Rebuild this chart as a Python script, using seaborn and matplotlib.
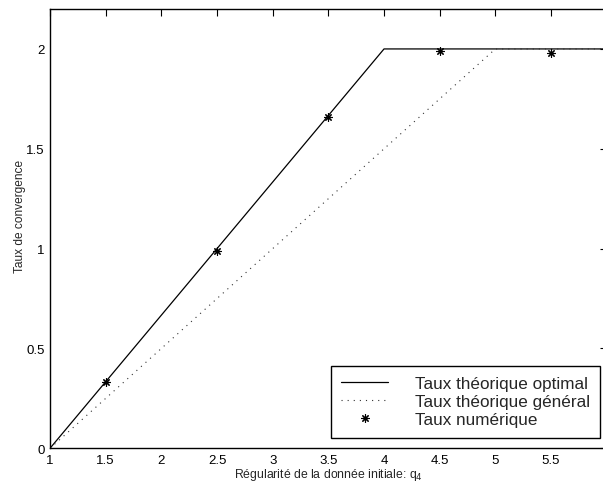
import matplotlib
matplotlib.use("Agg")
import matplotlib.pyplot as plt
import seaborn as sns
import pandas as pd

# Data
x_optimal = [1, 4, 6]
y_optimal = [0, 2, 2]
x_general = [1, 5, 6]
y_general = [0, 2, 2]
x_num = [1.5, 2.5, 3.5, 4.5, 5.5]
y_num = [0.33, 0.99, 1.66, 1.99, 1.98]
x_ticks = [1, 1.5, 2, 2.5, 3, 3.5, 4, 4.5, 5, 5.5]
y_ticks = [0, 0.5, 1, 1.5, 2]

sns.set_style("white")
plt.rcParams['font.family'] = ['Liberation Sans', 'DejaVu Sans']

fig = plt.figure(figsize=(6.03, 4.89), dpi=100)
W, H = 603, 489
ax = fig.add_axes([50 / W, (H - 449.3) / H, 556.7 / W, 439.3 / H])

df_opt = pd.DataFrame({"x": x_optimal, "y": y_optimal})
df_gen = pd.DataFrame({"x": x_general, "y": y_general})
df_num = pd.DataFrame({"x": x_num, "y": y_num})

sns.lineplot(data=df_opt, x="x", y="y", ax=ax, color="black", linewidth=0.9,
             label="Taux théorique optimal")
sns.lineplot(data=df_gen, x="x", y="y", ax=ax, color="#333333", linewidth=0.8,
             linestyle=(0, (1, 4.5)), label="Taux théorique général")
ax.plot(x_num, y_num, linestyle="none", marker=(8, 2, 0), markersize=6,
        markeredgewidth=0.8, color="black", label="Taux numérique")

ax.set_xlim(1, 6)
ax.set_ylim(0, 2.2)
ax.set_xticks(x_ticks)
ax.set_xticklabels([f"{t:g}" for t in x_ticks])
ax.set_yticks(y_ticks)
ax.set_yticklabels([f"{t:g}" for t in y_ticks])
ax.tick_params(direction="in", length=5, width=0.8, labelsize=9.5, top=True,
               right=True, colors="black", pad=4)
for s in ax.spines.values():
    s.set_visible(True)
    s.set_color("black")
    s.set_linewidth(1.0)

ax.set_xlabel("Régularité de la donnée initiale: q$_4$", fontsize=8.8)
ax.set_ylabel("Taux de convergence", fontsize=8.6)
ax.xaxis.set_label_coords(0.5, -(467.5 - 449.3) / 439.3)
ax.yaxis.set_label_coords((26 - 50) / 556.7, (449.3 - 216) / 439.3)

leg = ax.legend(loc="lower right", bbox_to_anchor=(600 / W, (H - 438.5) / H),
                bbox_transform=fig.transFigure, fontsize=12.3, frameon=True,
                fancybox=False, framealpha=1, edgecolor="black",
                handlelength=2.75, handletextpad=1.55, borderpad=0.6,
                labelspacing=0.18, borderaxespad=0)
leg.get_frame().set_linewidth(1.0)

fig.savefig("out.png", dpi=100)
